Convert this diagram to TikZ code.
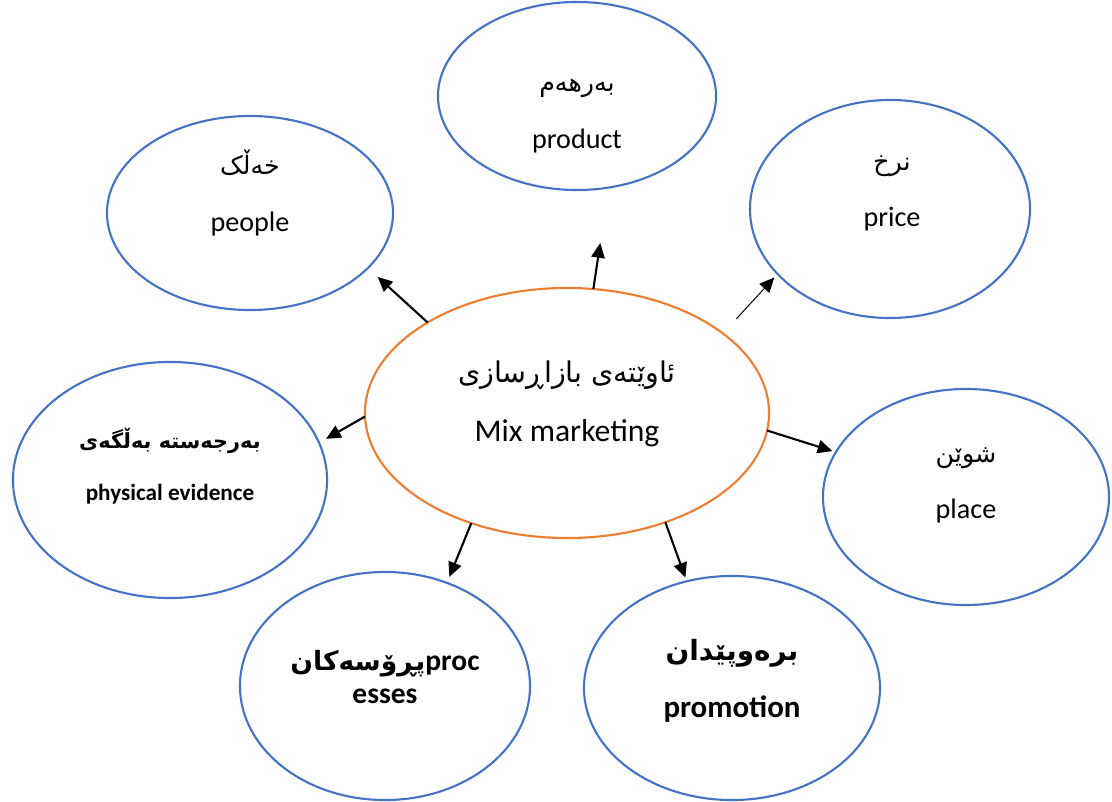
\documentclass[tikz,border=0pt]{standalone}
\usepackage{fontspec}
\setmainfont{Carlito}
\newfontfamily\kurdfont[Script=Arabic,Scale=0.9]{DejaVu Sans}
\TeXXeTstate=1
\usetikzlibrary{shapes.geometric}
\usetikzlibrary{arrows.meta}
\definecolor{bleu}{RGB}{68,114,196}
\definecolor{orangeline}{RGB}{237,125,49}
\newcommand{\kurd}[1]{{\kurdfont\beginR #1\endR}}
\tikzstyle{bulle}=[ellipse,draw=bleu,line width=1.5pt,outer sep=0pt,inner sep=0pt]
\tikzstyle{centre}=[ellipse,draw=orangeline,line width=1.5pt,outer sep=0pt,inner sep=0pt]
\tikzstyle{texte}=[align=center,inner sep=0pt,font={\fontsize{20}{40}\selectfont}]
\tikzstyle{fleche}=[-{Triangle[length=10.5pt,width=9.5pt]},line width=1.5pt]

\begin{document}
\begin{tikzpicture}[x=0.025cm,y=-0.025cm]
\useasboundingbox (0,0) rectangle (1112,802);
\node[bulle,minimum width=7.15cm,minimum height=4.85cm] (people) at (250,213) {};
\node[bulle,minimum width=6.95cm,minimum height=4.7cm] (product) at (577,96) {};
\node[bulle,minimum width=7cm,minimum height=5.45cm] (price) at (890,209) {};
\node[centre,minimum width=10.1cm,minimum height=6.25cm] (mix) at (567,413) {};
\node[bulle,minimum width=7.85cm,minimum height=5.9cm] (phys) at (170,480) {};
\node[bulle,minimum width=7.15cm,minimum height=5.4cm] (place) at (966,497) {};
\node[bulle,minimum width=7.25cm,minimum height=5.7cm] (processes) at (385,686) {};
\node[bulle,minimum width=7.4cm,minimum height=5.6cm] (promotion) at (732,688) {};
%textes
\node[texte] (peopleText) at (250,193) {\kurd{خەڵک}\\people};
\node[texte] (productText) at (577,116) {\kurd{بەرهەم}\\product};
\node[texte] (priceText) at (892,193) {\kurd{نرخ}\\price};
\node[texte,font={\fontsize{22.5}{42}\selectfont}] (mixText) at (567,404) {\kurd{ئاوێتەی بازاڕسازی}\\Mix marketing};
\node[texte,font={\bfseries\fontsize{16.5}{37}\selectfont}] (physText) at (170,466) {\kurd{بەرجەستە بەڵگەی}\\physical evidence};
\node[texte] (placeText) at (966,485) {\kurd{شوێن}\\place};
\node[texte,font={\bfseries\fontsize{21}{24}\selectfont}] (processesText) at (385,677) {\kurd{پڕۆسەکان}proc\\esses};
\node[texte,font={\bfseries\fontsize{22}{41}\selectfont}] (promotionText) at (732,681) {\kurd{برەوپێدان}\\promotion};
%fleches
\draw[fleche,shorten >=0.33cm] (mix.147.8) -- (people.-25.7);
\draw[fleche,shorten >=1.4cm] (mix.78) -- (product.-71.4);
\draw[fleche,line width=0.7pt,shorten <=0.5cm,shorten >=0.12cm] (mix.27.7) -- (price.210.4);
\draw[fleche,shorten >=0.2cm] (mix.181) -- (phys.14.8);
\draw[fleche,shorten >=0.09cm] (mix.-5.6) -- (place.161.4);
\draw[fleche,shorten >=0.16cm] (mix.229.6) -- (processes.59.2);
\draw[fleche,shorten >=0.1cm] (mix.312) -- (promotion.113.8);
\end{tikzpicture}
\end{document}
